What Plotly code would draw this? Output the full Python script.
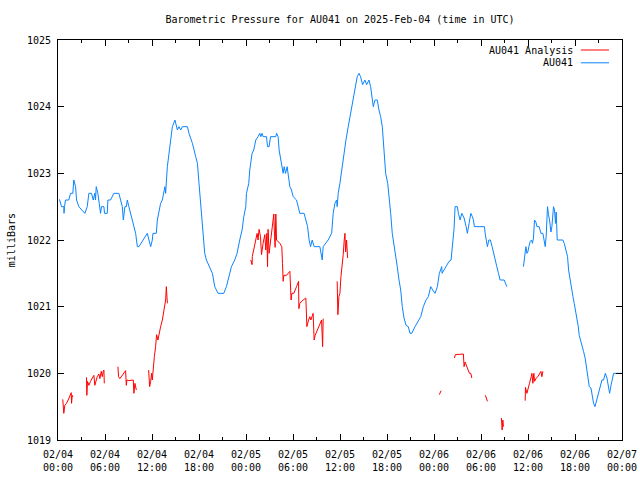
import plotly.graph_objects as go

# ---- data (hours since 2025-02-04 00:00 UTC, pressure in mb) ----
station_hours = [0.19, 0.45, 0.74, 0.77, 0.83, 0.96, 1.38, 1.60, 1.89, 2.02, 2.24, 2.37, 2.66, 3.43, 3.73,
                 3.94, 4.28, 4.50, 4.70, 4.79, 4.88, 5.09, 5.22, 5.43, 5.56, 5.86, 5.94, 6.29, 6.37, 6.71,
                 7.13, 7.77, 7.99, 8.21, 8.34, 8.54, 8.72, 8.85, 9.05, 9.27, 9.49, 9.78, 9.91, 10.13, 10.33,
                 11.40, 11.61, 11.83, 12.04, 12.12, 12.55, 12.68, 13.10, 13.32, 13.65, 13.74, 13.96, 14.17,
                 14.38, 14.60, 14.93, 15.24, 15.44, 15.66, 15.88, 16.52, 16.72, 17.16, 17.58, 17.80, 18.00,
                 18.18, 18.31, 18.51, 18.73, 18.95, 19.37, 19.71, 20.01, 20.43, 21.16, 21.50, 21.93, 22.14,
                 22.56, 22.86, 23.20, 23.50, 23.72, 23.97, 24.06, 24.35, 24.48, 24.78, 24.99, 25.25, 25.54,
                 25.76, 25.89, 26.05, 26.18, 26.62, 26.75, 26.95, 27.13, 27.81, 27.90, 28.10, 28.23, 28.41,
                 28.61, 28.74, 28.87, 29.05, 29.25, 29.38, 29.60, 29.81, 30.02, 30.45, 30.66, 30.87, 31.42,
                 31.64, 31.86, 32.06, 32.24, 32.45, 32.70, 33.43, 33.73, 33.85, 34.20, 34.49, 34.93, 35.13,
                 35.35, 35.57, 35.64, 35.77, 35.99, 36.21, 36.41, 36.76, 37.05, 37.36, 37.61, 37.91, 38.20,
                 38.42, 38.63, 38.89, 39.18, 39.40, 39.70, 39.91, 40.12, 40.25, 40.46, 40.76, 40.97, 41.19,
                 41.40, 41.52, 41.65, 41.83, 42.09, 42.25, 42.47, 42.67, 42.89, 43.11, 43.31, 43.53, 43.75,
                 43.95, 44.17, 44.43, 44.72, 44.94, 45.16, 45.58, 46.00, 46.31, 46.64, 46.98, 47.28, 47.58,
                 47.84, 48.13, 48.43, 48.68, 48.99, 49.03, 49.28, 49.63, 49.92, 50.18, 50.34, 50.56, 50.69,
                 50.98, 51.11, 51.33, 51.55, 51.84, 52.10, 52.26, 52.48, 52.70, 52.90, 53.03, 53.16, 54.44,
                 54.53, 54.65, 54.82, 55.00, 55.20, 55.42, 55.59, 55.80, 56.02, 56.23, 56.44, 56.96, 57.08,
                 57.30, None,
                 59.42, 59.55, 59.73, 59.86, 59.98, 60.11, 60.28, 60.45, 60.57, 60.70, 60.83, 61.01, 61.14,
                 61.43, 61.65, 61.90, 62.07, 62.20, 62.32, 62.49, 62.62, 62.75, 62.93, 63.05, 63.26, 63.39,
                 63.51, 63.60, 63.73, 64.46, 64.63, 64.84, 65.05, 65.18, 65.39, 65.52, 65.74, 65.90, 66.07,
                 66.25, 66.42, 66.54, 66.71, 66.93, 67.09, 67.31, 67.48, 67.66, 67.82, 68.04, 68.21, 68.37,
                 68.55, 68.72, 68.88, 69.06, 69.23, 69.44, 69.65, 69.87, 70.08, 70.25, 70.42, 70.60, 70.80,
                 70.93, 72.00]
station_mb = [1022.61, 1022.5, 1022.5, 1022.4, 1022.5, 1022.6, 1022.6, 1022.7, 1022.7, 1022.9, 1022.8, 1022.6,
              1022.5, 1022.4, 1022.5, 1022.7, 1022.7, 1022.6, 1022.7, 1022.6, 1022.8, 1022.7, 1022.6, 1022.4,
              1022.5, 1022.5, 1022.4, 1022.4, 1022.6, 1022.6, 1022.7, 1022.7, 1022.6, 1022.5, 1022.3, 1022.5,
              1022.5, 1022.6, 1022.5, 1022.4, 1022.3, 1022.2, 1022.1, 1021.9, 1021.9, 1022.1, 1022.0, 1021.9,
              1022.0, 1022.1, 1022.1, 1022.3, 1022.55, 1022.6, 1022.8, 1022.7, 1023.1, 1023.3, 1023.55, 1023.7,
              1023.8, 1023.65, 1023.7, 1023.65, 1023.7, 1023.7, 1023.6, 1023.45, 1023.25, 1023.15, 1022.85,
              1022.6, 1022.5, 1022.1, 1021.8, 1021.7, 1021.6, 1021.5, 1021.3, 1021.2, 1021.2, 1021.3, 1021.5,
              1021.6, 1021.7, 1021.8, 1022.0, 1022.15, 1022.35, 1022.5, 1022.7, 1022.85, 1023.05, 1023.3,
              1023.35, 1023.5, 1023.55, 1023.6, 1023.55, 1023.6, 1023.55, 1023.55, 1023.4, 1023.4, 1023.55,
              1023.55, 1023.6, 1023.55, 1023.35, 1023.2, 1023.1, 1023.0, 1023.1, 1023.0, 1023.1, 1022.97,
              1022.8, 1022.75, 1022.65, 1022.6, 1022.5, 1022.4, 1022.4, 1022.3, 1022.2, 1022.0, 1021.9, 1022.0,
              1021.9, 1021.9, 1021.7, 1021.9, 1021.95, 1022.0, 1022.1, 1022.4, 1022.55, 1022.6, 1022.5, 1022.7,
              1022.85, 1023.05, 1023.25, 1023.5, 1023.7, 1023.9, 1024.1, 1024.3, 1024.45, 1024.5, 1024.45,
              1024.33, 1024.4, 1024.33, 1024.4, 1024.3, 1024.1, 1024.0, 1024.1, 1024.1, 1023.95, 1023.85,
              1023.7, 1023.5, 1023.25, 1023.0, 1022.85, 1022.6, 1022.4, 1022.1, 1021.95, 1021.75, 1021.6,
              1021.4, 1021.25, 1021.0, 1020.83, 1020.72, 1020.7, 1020.6, 1020.6, 1020.7, 1020.78, 1020.85,
              1021.0, 1021.1, 1021.15, 1021.3, 1021.25, 1021.2, 1021.3, 1021.5, 1021.6, 1021.5, 1021.55,
              1021.63, 1021.68, 1021.7, 1021.9, 1022.17, 1022.5, 1022.5, 1022.4, 1022.3, 1022.4, 1022.33,
              1022.2, 1022.1, 1022.25, 1022.4, 1022.35, 1022.3, 1022.2, 1022.2, 1022.1, 1022.0, 1021.9, 1022.0,
              1022.0, 1021.9, 1021.8, 1021.7, 1021.6, 1021.5, 1021.4, 1021.4, 1021.35, 1021.3, None,
              1021.6, 1021.75, 1021.9, 1021.8, 1021.82, 1021.9, 1021.98, 1022.0, 1021.95, 1022.03, 1022.3,
              1022.27, 1022.2, 1022.2, 1022.1, 1022.1, 1022.0, 1021.9, 1022.05, 1022.5, 1022.38, 1022.3,
              1022.12, 1022.2, 1022.5, 1022.45, 1022.25, 1022.42, 1022.0, 1022.0, 1021.95, 1021.85, 1021.75,
              1021.55, 1021.4, 1021.25, 1021.15, 1021.05, 1020.95, 1020.83, 1020.7, 1020.57, 1020.48, 1020.4,
              1020.33, 1020.22, 1020.08, 1019.93, 1019.8, 1019.78, 1019.65, 1019.55, 1019.5, 1019.58, 1019.65,
              1019.75, 1019.83, 1019.9, 1019.9, 1020.0, 1019.93, 1019.8, 1019.7, 1019.82, 1019.93, 1020.0,
              1020.0]

analysis_hours = [0.61, 0.74, 0.87, 1.09, 1.30, 1.51, 1.69, 1.73, 1.82, 1.89, None,
                  3.64, 3.68, 3.77, 3.94, 4.15, 4.37, 4.58, 4.70, 4.83, 5.01, 5.22, 5.34, 5.52, 5.65, 5.78,
                  5.86, 5.91, None,
                  7.65, 7.73, 7.90, 8.08, 8.34, 8.63, 8.72, 8.80, 9.05, 9.27, 9.61, 9.69, 9.82, 10.00, None,
                  11.57, 11.70, 11.83, 11.95, 12.04, 12.17, 12.30, 12.46, 12.59, 12.76, 12.89, 13.10, 13.32,
                  13.53, 13.65, 13.74, 13.83, 13.96, None,
                  24.61, 24.78, 24.80, 24.99, 25.21, 25.42, 25.54, 25.67, 25.85, 25.98, 26.18, 26.40, 26.53,
                  26.66, 26.75, 26.82, 26.95, 27.13, 27.26, 27.46, 27.55, 27.64, 27.72, 27.81, 27.90, 28.32,
                  28.57, 28.66, 28.74, 28.83, 29.17, 29.60, 29.76, 29.85, 30.11, 30.45, 30.71, 30.75, 30.87,
                  31.30, 31.64, 31.77, 31.86, 31.99, 32.15, 32.28, 32.57, 32.70, 32.83, 33.09, 33.43, 33.65,
                  33.78, 33.85, None,
                  35.64, 35.73, 35.86, 35.99, 36.12, 36.28, 36.41, 36.54, 36.63, 36.72, 36.84, 36.97, None,
                  48.68, 48.90, None,
                  50.60, 50.73, 51.75, 51.84, 51.97, 52.19, 52.39, 52.52, 52.70, 52.83, None,
                  54.56, 54.69, 54.82, None,
                  56.61, 56.70, 56.79, 56.86, None,
                  59.64, 59.68, 59.86, 59.98, 60.19, 60.41, 60.50, 60.62, 60.75, 60.83, 61.05, 61.26, 61.47,
                  61.65, 61.77, 61.90]
analysis_mb = [1019.61, 1019.4, 1019.52, 1019.55, 1019.6, 1019.67, 1019.71, 1019.55, 1019.67, 1019.65, None,
               1019.94, 1019.67, 1019.88, 1019.82, 1019.88, 1019.92, 1019.97, 1019.82, 1019.9, 1019.95,
               1019.99, 1019.92, 1020.03, 1019.95, 1020.03, 1020.05, 1019.85, None,
               1020.1, 1019.95, 1019.92, 1019.95, 1019.99, 1020.04, 1019.82, 1019.9, 1019.89, 1019.89,
               1019.9, 1019.7, 1019.85, 1019.75, None,
               1020.05, 1019.8, 1019.88, 1020.0, 1019.9, 1020.13, 1020.25, 1020.4, 1020.58, 1020.5, 1020.6,
               1020.7, 1020.8, 1020.95, 1021.0, 1021.1, 1021.3, 1021.05, None,
               1021.7, 1021.63, 1021.75, 1021.85, 1021.97, 1022.1, 1022.0, 1022.16, 1022.05, 1021.78,
               1021.95, 1022.08, 1021.85, 1022.1, 1021.6, 1022.16, 1021.8, 1022.0, 1022.1, 1022.3, 1022.39,
               1022.05, 1021.89, 1022.39, 1022.0, 1021.95, 1021.9, 1021.65, 1021.38, 1021.47, 1021.47,
               1021.53, 1021.1, 1021.2, 1021.2, 1021.3, 1021.38, 1020.97, 1021.05, 1021.1, 1021.13, 1020.7,
               1020.75, 1020.8, 1020.85, 1020.8, 1020.9, 1020.5, 1020.57, 1020.65, 1020.75, 1020.8, 1020.4,
               1020.82, None,
               1021.38, 1020.88, 1021.15, 1021.2, 1021.45, 1021.6, 1021.78, 1022.0, 1022.1, 1021.82, 1022.0,
               1021.73, None,
               1019.68, 1019.74, None,
               1020.23, 1020.28, 1020.29, 1020.1, 1020.17, 1020.1, 1020.05, 1020.0, 1020.0, 1019.93, None,
               1019.67, 1019.62, 1019.58, None,
               1019.33, 1019.15, 1019.3, 1019.2, None,
               1019.59, 1019.79, 1019.7, 1019.77, 1019.85, 1019.95, 1020.0, 1019.85, 1020.0, 1019.88,
               1019.93, 1019.95, 1020.0, 1020.03, 1019.95, 1020.03]

tick_hours = [0, 6, 12, 18, 24, 30, 36, 42, 48, 54, 60, 66, 72]
tick_labels = ["02/04<br>00:00", "02/04<br>06:00", "02/04<br>12:00", "02/04<br>18:00",
               "02/05<br>00:00", "02/05<br>06:00", "02/05<br>12:00", "02/05<br>18:00",
               "02/06<br>00:00", "02/06<br>06:00", "02/06<br>12:00", "02/06<br>18:00",
               "02/07<br>00:00"]
series_names = ["AU041 Analysis", "AU041"]
series_colors = ["#ff0000", "#0a84ff"]

FONT = "DejaVu Sans Mono"

fig = go.Figure()
fig.add_trace(go.Scatter(x=station_hours, y=station_mb, mode="lines", name=series_names[1],
                         line=dict(color=series_colors[1], width=1), connectgaps=False,
                         showlegend=False))
fig.add_trace(go.Scatter(x=analysis_hours, y=analysis_mb, mode="lines", name=series_names[0],
                         line=dict(color=series_colors[0], width=1), connectgaps=False,
                         showlegend=False))

axis_common = dict(showline=True, linecolor="black", linewidth=1, mirror="allticks",
                   ticks="inside", ticklen=6, tickcolor="black", tickwidth=1,
                   showgrid=False, zeroline=False, automargin=False,
                   tickfont=dict(family=FONT, size=10, color="black"))

fig.update_xaxes(range=[0, 72], tickmode="array", tickvals=tick_hours, ticktext=tick_labels,
                 ticklabelstandoff=5,
                 minor=dict(tickmode="linear", tick0=0, dtick=3, ticks="inside", ticklen=3,
                            tickcolor="black", showgrid=False),
                 **axis_common)
fig.update_yaxes(range=[1019, 1025], tickmode="linear", tick0=1019, dtick=1,
                 ticklabelstandoff=4, **axis_common)

# gnuplot-style key: text on the left, sample line on the right
legend_y = [0.975, 0.943]
for name, color, ly in zip(series_names, series_colors, legend_y):
    fig.add_annotation(x=0.9167, y=ly, xref="paper", yref="paper", text=name, showarrow=False,
                       xanchor="right", yanchor="middle", font=dict(family=FONT, size=10, color="black"))
    fig.add_shape(type="line", xref="paper", yref="paper", x0=0.927, x1=0.977, y0=ly, y1=ly,
                  line=dict(color=color, width=1))

fig.add_annotation(x=-0.083, y=0.5, xref="paper", yref="paper", text="milliBars", showarrow=False,
                   textangle=-90, xanchor="center", yanchor="middle",
                   font=dict(family=FONT, size=10, color="black"))

fig.update_layout(
    width=640, height=480,
    margin=dict(l=58, r=18, t=40, b=40, autoexpand=False),
    paper_bgcolor="white", plot_bgcolor="white",
    title=dict(text="Barometric Pressure for AU041 on 2025-Feb-04 (time in UTC)",
               x=0.5, xref="paper", y=1 - 19 / 480, yref="container", yanchor="middle",
               font=dict(family=FONT, size=10, color="black")),
)

fig.write_html("out.html", config={"displayModeBar": False},
               post_script="document.body.style.margin='0px';")
